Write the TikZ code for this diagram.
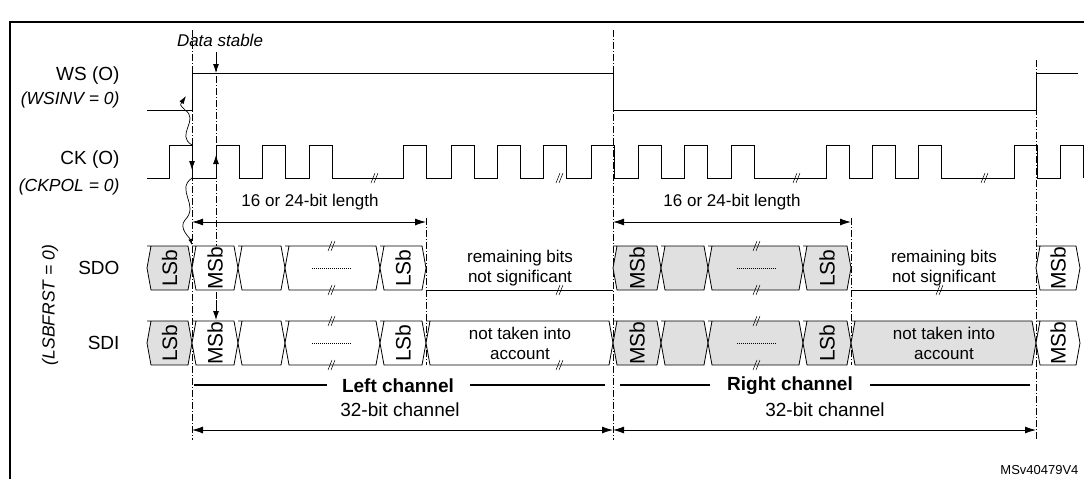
\documentclass[tikz,border=0pt]{standalone}
\usepackage{fontspec}
\setmainfont{Liberation Sans}
\usetikzlibrary{arrows.meta}
\begin{document}
\begin{tikzpicture}[x=1pt,y=-1pt,
  sig/.style={line width=0.8pt},
  dd/.style={line width=0.6pt,dash pattern=on 7pt off 2pt on 1pt off 2pt},
  arr/.style={line width=0.8pt,-{Latex[length=9pt,width=6pt]}},
  darr/.style={line width=0.8pt,{Latex[length=11pt,width=7pt]}-{Latex[length=11pt,width=7pt]}},
  lbl/.style={font=\fontsize{19}{22}\selectfont},
  ilbl/.style={font=\fontsize{17.5}{21}\selectfont\itshape},
  rot/.style={font=\fontsize{21}{24}\selectfont,rotate=90}]
\useasboundingbox (0,0) rectangle (1084,479);
\draw[line width=1.6pt] (10,479) -- (10,22) -- (1084,22);
\newcommand\hx[5]{\draw[sig,fill=#4] (#1,#3-22) -- (#2-4,#3-22) -- (#2,#3) -- (#2-4,#3+22) -- (#1+4,#3+22) -- (#1,#3) -- (#1+4,#3-22) -- cycle;
  \node[rot] at ({(#1+#2)/2},#3) {#5};}
\newcommand\brk[2]{\draw[line width=0.5pt] (#1-4,#2+5) -- (#1,#2-5) (#1-1,#2+5) -- (#1+3,#2-5);}
\colorlet{g}{black!12}
% labels
\node[lbl,anchor=east] at (123,76) {WS (O)};
\node[ilbl,anchor=east] at (123,100) {(WSINV = 0)};
\node[lbl,anchor=east] at (123,160) {CK (O)};
\node[ilbl,anchor=east] at (123,187) {(CKPOL = 0)};
\node[lbl,anchor=east] at (123,268) {SDO};
\node[lbl,anchor=east] at (123,343) {SDI};
\node[ilbl,rotate=90] at (50,305) {(LSBFRST = 0)};
\node[font=\fontsize{17}{20}\selectfont\itshape] at (220,40) {Data stable};
% WS
\draw[sig] (147,110) -- (192,110) -- (192,73) -- (613,73) -- (613,110) -- (1036,110) -- (1036,73) -- (1078,73);
% CK
\draw[sig] (147,178) -- (169,178) \foreach \a in {169,216,262,309,403,451,497,543,591,638,684,731,826,872,918,1014,1060}{ -- (\a,178) -- (\a,145) -- (\a+23,145) -- (\a+23,178)} ;
\foreach \x in {375,560,797,985}{\brk{\x}{178}}
% dash-dot verticals
\draw[dd] (192,30) -- (192,440);
\draw[dd] (216,52) -- (216,300);
\draw[dd] (426,218) -- (426,365);
\draw[dd] (613,30) -- (613,440);
\draw[dd] (851,218) -- (851,365);
\draw[dd] (1036,60) -- (1036,440);
% SDO
\hx{147}{192}{268}{g}{LSb}
\hx{192}{238}{268}{white}{MSb}
\hx{238}{285}{268}{white}{}
\hx{285}{380}{268}{white}{}
\hx{380}{426}{268}{white}{LSb}
\draw[sig] (426,290) -- (613,290);
\hx{613}{661}{268}{g}{MSb}
\hx{661}{708}{268}{g}{}
\hx{708}{803}{268}{g}{}
\hx{803}{851}{268}{g}{LSb}
\draw[sig] (851,290) -- (1036,290);
\hx{1036}{1080}{268}{white}{MSb}
\node[font=\fontsize{17}{20}\selectfont,align=center,inner sep=0pt] at (520,268) {remaining bits\\not significant};
\node[font=\fontsize{17}{20}\selectfont,align=center,inner sep=0pt] at (944,268) {remaining bits\\not significant};
% SDI
\hx{147}{192}{343}{g}{LSb}
\hx{192}{238}{343}{white}{MSb}
\hx{238}{285}{343}{white}{}
\hx{285}{380}{343}{white}{}
\hx{380}{426}{343}{white}{LSb}
\hx{426}{613}{343}{white}{}
\hx{613}{661}{343}{g}{MSb}
\hx{661}{708}{343}{g}{}
\hx{708}{803}{343}{g}{}
\hx{803}{851}{343}{g}{LSb}
\hx{851}{1036}{343}{g}{}
\hx{1036}{1080}{343}{white}{MSb}
\node[font=\fontsize{17}{20}\selectfont,align=center,inner sep=0pt] at (520,343) {not taken into\\account};
\node[font=\fontsize{17}{20}\selectfont,align=center,inner sep=0pt] at (944,343) {not taken into\\account};
\foreach \x in {332,757}{\foreach \y in {246,290,321,365}{\brk{\x}{\y}}
  \draw[line width=0.5pt,dash pattern=on 1pt off 1pt] (\x-20,268) -- (\x+20,268) (\x-20,343) -- (\x+20,343);}
\brk{560}{290}\brk{940}{290}\brk{560}{365}
% arrows
\draw[darr] (192,222) -- (426,222);
\node[font=\fontsize{17}{20}\selectfont] at (310,202) {16 or 24-bit length};
\draw[darr] (613,222) -- (851,222);
\node[font=\fontsize{17}{20}\selectfont] at (732,202) {16 or 24-bit length};
\draw[darr] (192,430) -- (613,430);
\node[lbl] at (400,410) {32-bit channel};
\draw[darr] (613,430) -- (1036,430);
\node[lbl] at (825,410) {32-bit channel};
\draw[line width=1.4pt] (194,385) -- (327,385) (470,385) -- (605,385);
\node[font=\fontsize{19}{22}\selectfont\bfseries] at (398,386) {Left channel};
\draw[line width=1.4pt] (620,385) -- (710,385) (870,385) -- (1030,385);
\node[font=\fontsize{19}{22}\selectfont\bfseries] at (790,386) {Right channel};
% timing arrows
\draw[arr] (216,52) -- (216,73);
\draw[arr] (216,178) -- (216,155);
\draw[arr] (192,148) -- (192,170);
\draw[arr] (216,300) -- (216,320);
\draw[line width=0.7pt,-{Latex[length=8pt,width=5pt]}] (192,145) .. controls (175,135) and (200,120) .. (185,110) .. controls (180,105) .. (186,96);
\draw[line width=0.7pt,-{Latex[length=6pt,width=4pt]}] (192,178) .. controls (175,190) and (200,205) .. (185,220) .. controls (178,228) and (190,238) .. (192,245);
\node[font=\fontsize{13}{15}\selectfont,anchor=south east] at (1082,478) {MSv40479V4};
\end{tikzpicture}
\end{document}
